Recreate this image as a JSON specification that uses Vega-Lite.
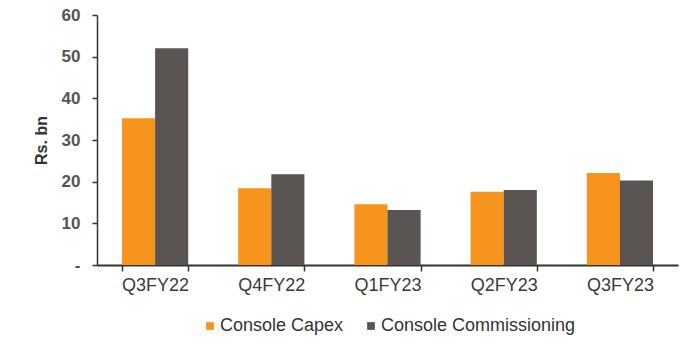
{
  "$schema": "https://vega.github.io/schema/vega-lite/v6.json",
  "autosize": {"type": "none"},
  "padding": {"left": 97, "top": 15, "right": 13, "bottom": 82},
  "width": 581,
  "height": 250,
  "background": "white",
  "config": {"view": {"stroke": null}, "font": "Liberation Sans"},
  "data": {"values": [
    {"q": "Q3FY22", "s": "Console Capex", "v": 35.2},
    {"q": "Q3FY22", "s": "Console Commissioning", "v": 52.0},
    {"q": "Q4FY22", "s": "Console Capex", "v": 18.4},
    {"q": "Q4FY22", "s": "Console Commissioning", "v": 21.8},
    {"q": "Q1FY23", "s": "Console Capex", "v": 14.6},
    {"q": "Q1FY23", "s": "Console Commissioning", "v": 13.2},
    {"q": "Q2FY23", "s": "Console Capex", "v": 17.6},
    {"q": "Q2FY23", "s": "Console Commissioning", "v": 18.0},
    {"q": "Q3FY23", "s": "Console Capex", "v": 22.1},
    {"q": "Q3FY23", "s": "Console Commissioning", "v": 20.3}
  ]},
  "mark": {"type": "bar"},
  "encoding": {
    "x": {
      "field": "q", "type": "nominal", "sort": null,
      "scale": {"paddingInner": 0.43, "paddingOuter": 0.215},
      "axis": {
        "title": null, "labelAngle": 0, "tickBand": "extent",
        "domainColor": "#333333", "domainWidth": 2, "tickColor": "#333333",
        "tickWidth": 1.5, "tickSize": 6, "labelFontSize": 18, "labelColor": "#3a3a3a",
        "labelPadding": 5
      }
    },
    "xOffset": {"field": "s", "type": "nominal", "scale": {"paddingInner": 0, "paddingOuter": 0}},
    "y": {
      "field": "v", "type": "quantitative",
      "scale": {"domain": [0, 60], "nice": false},
      "axis": {
        "title": "Rs. bn", "titleFontSize": 16, "titleFontWeight": "bold", "titleColor": "#333333",
        "titlePadding": 12,
        "values": [0, 10, 20, 30, 40, 50, 60],
        "labelExpr": "datum.value == 0 ? '-' : datum.label",
        "grid": false, "domainColor": "#333333", "domainWidth": 1.5,
        "tickColor": "#333333", "tickSize": 5, "tickWidth": 1.5,
        "labelFontSize": 17, "labelColor": "#555555", "labelFontWeight": "bold", "labelPadding": 12
      }
    },
    "color": {
      "field": "s", "type": "nominal",
      "scale": {"domain": ["Console Capex", "Console Commissioning"], "range": ["#F7941D", "#5A5552"]},
      "legend": {
        "title": null, "orient": "none", "direction": "horizontal",
        "legendX": 104, "legendY": 302, "labelLimit": 400,
        "symbolType": "square", "symbolSize": 60, "symbolStrokeWidth": 0,
        "labelFontSize": 18, "labelColor": "#333333", "labelOffset": 1,
        "columnPadding": 18
      }
    }
  }
}
